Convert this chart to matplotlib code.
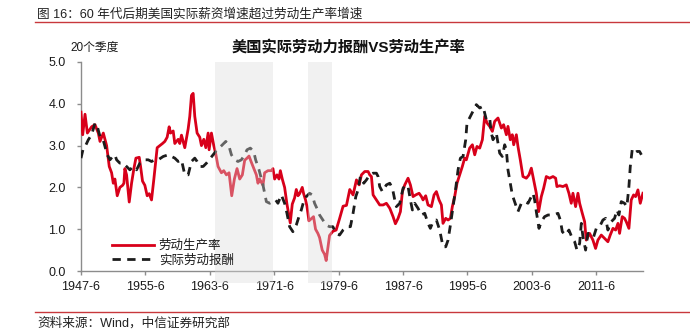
import matplotlib
matplotlib.use("Agg")
import matplotlib.pyplot as plt
from matplotlib.lines import Line2D

plt.rcParams['font.family'] = ['Liberation Sans', 'Noto Sans CJK SC', 'DejaVu Sans']

# ---------------- data ----------------
prod_years = [1947.50, 1947.71, 1948.00, 1948.29, 1948.82, 1949.24, 1949.65, 1949.86, 1950.27, 1950.68,
              1951.01, 1951.30, 1951.51, 1951.71, 1952.00, 1952.33, 1952.67, 1952.83, 1952.95, 1953.16,
              1953.49, 1953.78, 1954.07, 1954.32, 1954.73, 1954.90, 1955.14, 1955.43, 1955.72, 1955.97,
              1956.26, 1956.55, 1956.96, 1957.29, 1957.62, 1957.91, 1958.20, 1958.45, 1958.62, 1958.95,
              1959.15, 1959.57, 1959.77, 1959.98, 1960.19, 1960.39, 1960.81, 1961.01, 1961.22, 1961.43,
              1961.63, 1961.92, 1962.25, 1962.46, 1962.75, 1963.00, 1963.29, 1963.41, 1963.70, 1963.99,
              1964.24, 1964.52, 1964.94, 1965.23, 1965.56, 1965.89, 1966.22, 1966.55, 1966.88, 1967.21,
              1967.54, 1967.83, 1968.12, 1968.37, 1968.66, 1969.07, 1969.28, 1969.48, 1969.69, 1970.10,
              1970.31, 1970.72, 1971.14, 1971.34, 1971.55, 1971.84, 1972.09, 1972.26, 1972.50, 1972.79,
              1973.08, 1973.49, 1973.74, 1974.03, 1974.24, 1974.45, 1974.65, 1974.98, 1975.15, 1975.39,
              1975.56, 1975.81, 1976.10, 1976.38, 1976.63, 1976.92, 1977.13, 1977.46, 1977.75, 1977.95,
              1978.16, 1978.37, 1978.78, 1979.19, 1979.61, 1980.05, 1980.47, 1980.88, 1981.29, 1981.71,
              1982.04, 1982.33, 1982.74, 1983.16, 1983.36, 1983.57, 1983.78, 1984.19, 1984.60, 1985.02,
              1985.43, 1985.85, 1986.26, 1986.55, 1986.88, 1987.17, 1987.42, 1987.71, 1988.12, 1988.41,
              1988.74, 1989.07, 1989.49, 1989.78, 1989.98, 1990.31, 1990.60, 1991.02, 1991.35, 1991.64,
              1991.97, 1992.26, 1992.46, 1992.80, 1993.09, 1993.38, 1993.62, 1993.91, 1994.20, 1994.53,
              1994.86, 1995.15, 1995.36, 1995.77, 1996.11, 1996.40, 1996.68, 1997.02, 1997.35, 1997.64,
              1997.93, 1998.26, 1998.59, 1998.88, 1999.29, 1999.71, 1999.99, 2000.33, 2000.53, 2000.82,
              2001.07, 2001.24, 2001.57, 2001.77, 2002.06, 2002.39, 2002.81, 2003.14, 2003.43, 2003.72,
              2004.05, 2004.34, 2004.67, 2004.96, 2005.29, 2005.70, 2006.12, 2006.45, 2006.61, 2006.95,
              2007.36, 2007.77, 2008.10, 2008.39, 2008.60, 2008.93, 2009.22, 2009.43, 2009.76, 2010.05,
              2010.25, 2010.67, 2010.88, 2011.08, 2011.41, 2011.70, 2012.12, 2012.53, 2012.94, 2013.23,
              2013.57, 2013.90, 2014.19, 2014.39, 2014.72, 2015.01, 2015.22, 2015.55, 2015.84, 2016.13,
              2016.38, 2016.67, 2016.96, 2017.29]
productivity = [3.80, 3.26, 3.75, 3.30, 3.45, 3.50, 3.30, 3.10, 3.30, 3.00,
                2.50, 2.35, 2.10, 2.20, 1.80, 2.00, 2.05, 2.10, 2.45, 2.30,
                1.65, 2.10, 2.45, 2.70, 2.72, 2.50, 2.15, 2.05, 1.80, 1.85,
                1.70, 2.20, 2.95, 3.00, 3.05, 3.10, 3.20, 3.45, 3.30, 3.35,
                3.05, 3.15, 3.05, 3.25, 3.10, 2.95, 3.40, 3.70, 4.20, 4.25,
                3.70, 3.30, 3.20, 3.00, 3.15, 2.95, 3.30, 2.90, 3.30, 3.00,
                2.80, 2.50, 2.35, 2.40, 2.30, 2.35, 1.80, 2.20, 2.45, 2.20,
                2.30, 2.65, 2.70, 2.75, 2.60, 2.40, 2.30, 2.10, 2.20, 2.05,
                2.35, 2.40, 2.40, 2.45, 2.20, 2.30, 2.20, 2.40, 2.20, 2.00,
                1.60, 1.15, 1.60, 1.75, 1.95, 1.80, 1.85, 2.00, 1.85, 1.70,
                1.55, 1.20, 1.25, 1.30, 1.00, 0.90, 0.80, 0.50, 0.40, 0.25,
                0.55, 0.85, 0.95, 0.98, 1.25, 1.55, 1.57, 1.95, 1.82, 2.18,
                2.06, 2.30, 2.38, 2.38, 2.30, 2.26, 1.82, 1.70, 1.58, 1.58,
                1.62, 1.50, 1.30, 1.13, 1.26, 1.42, 1.90, 2.06, 2.22, 2.06,
                1.78, 1.82, 1.86, 1.78, 1.70, 1.80, 1.58, 1.54, 1.82, 1.90,
                1.70, 1.58, 1.14, 1.26, 1.22, 1.26, 1.54, 1.78, 2.10, 2.30,
                2.50, 2.70, 2.66, 2.94, 3.02, 2.78, 2.98, 2.94, 3.14, 3.70,
                3.54, 3.46, 3.34, 3.58, 3.66, 3.42, 3.50, 3.26, 3.46, 3.14,
                3.26, 3.02, 3.26, 2.98, 2.66, 2.26, 2.22, 2.30, 2.46, 2.18,
                1.86, 1.42, 1.78, 1.98, 2.26, 2.22, 2.26, 2.22, 2.02, 2.04,
                2.02, 2.06, 1.86, 1.62, 1.86, 1.54, 1.86, 1.62, 1.38, 1.18,
                0.74, 0.90, 0.82, 0.74, 0.54, 0.74, 0.86, 0.78, 0.70, 0.86,
                1.02, 0.98, 1.14, 0.90, 1.30, 1.26, 1.18, 1.02, 1.70, 1.82,
                1.78, 1.94, 1.62, 1.86]

comp_years = [1947.50, 1947.79, 1948.12, 1948.41, 1948.82, 1949.24, 1949.52, 1949.86, 1950.19, 1950.48,
              1950.76, 1951.10, 1951.43, 1951.71, 1951.92, 1952.33, 1952.75, 1953.16, 1953.57, 1953.99,
              1954.40, 1954.81, 1955.43, 1955.85, 1956.26, 1956.67, 1957.09, 1957.71, 1958.33, 1958.74,
              1959.15, 1959.57, 1959.98, 1960.39, 1960.81, 1961.22, 1961.63, 1961.92, 1962.25, 1962.67,
              1963.08, 1963.41, 1963.90, 1964.24, 1964.65, 1965.06, 1965.48, 1965.89, 1966.18, 1966.59,
              1967.00, 1967.42, 1967.83, 1968.12, 1968.53, 1968.95, 1969.19, 1969.61, 1970.10, 1970.52,
              1970.93, 1971.34, 1971.67, 1971.96, 1972.38, 1972.79, 1973.08, 1973.41, 1973.82, 1974.24,
              1974.57, 1974.86, 1975.15, 1975.48, 1975.89, 1976.22, 1976.51, 1976.80, 1977.13, 1977.54,
              1977.95, 1978.37, 1978.78, 1979.19, 1979.61, 1980.05, 1980.55, 1980.96, 1981.29, 1981.63,
              1981.91, 1982.20, 1982.62, 1982.95, 1983.36, 1983.78, 1984.19, 1984.40, 1984.60, 1984.93,
              1985.43, 1985.85, 1986.18, 1986.47, 1986.67, 1987.09, 1987.50, 1987.83, 1988.12, 1988.41,
              1988.66, 1988.95, 1989.36, 1989.78, 1990.19, 1990.60, 1990.89, 1991.22, 1991.64, 1992.05,
              1992.46, 1992.80, 1993.09, 1993.38, 1993.71, 1994.04, 1994.33, 1994.62, 1994.95, 1995.28,
              1995.44, 1995.86, 1996.19, 1996.60, 1997.02, 1997.43, 1997.84, 1998.26, 1998.46, 1998.67,
              1999.08, 1999.50, 1999.83, 2000.12, 2000.33, 2000.53, 2000.82, 2001.07, 2001.57, 2001.77,
              2002.19, 2002.60, 2003.02, 2003.43, 2003.64, 2003.84, 2004.05, 2004.38, 2004.67, 2005.08,
              2005.50, 2006.12, 2006.74, 2007.03, 2007.28, 2007.69, 2008.10, 2008.52, 2008.81, 2009.10,
              2009.43, 2009.64, 2009.84, 2010.17, 2010.46, 2010.88, 2011.17, 2011.50, 2011.91, 2012.32,
              2012.66, 2012.94, 2013.36, 2013.77, 2014.06, 2014.31, 2014.60, 2015.01, 2015.30, 2015.55,
              2015.72, 2015.96, 2016.25, 2016.54, 2016.87, 2017.10]
compensation = [2.70, 2.94, 3.02, 3.14, 3.26, 3.54, 3.46, 3.22, 3.18, 2.98,
                2.78, 2.66, 2.74, 2.78, 2.66, 2.58, 2.58, 2.50, 2.42, 2.50,
                2.42, 2.58, 2.66, 2.66, 2.62, 2.66, 2.66, 2.74, 2.78, 2.74,
                2.70, 2.62, 2.66, 2.30, 2.30, 2.62, 2.70, 2.62, 2.50, 2.50,
                2.58, 2.66, 2.78, 2.86, 2.94, 3.02, 3.10, 2.98, 2.78, 2.66,
                2.62, 2.66, 2.78, 2.90, 2.94, 2.86, 2.66, 2.42, 2.06, 1.66,
                1.62, 1.66, 1.70, 1.62, 1.82, 1.62, 1.38, 1.06, 0.94, 1.10,
                1.30, 1.46, 1.66, 1.78, 1.86, 1.82, 1.62, 1.50, 1.34, 1.22,
                1.10, 1.06, 1.06, 0.90, 0.86, 0.98, 1.06, 1.06, 1.38, 1.78,
                1.94, 2.26, 2.10, 2.18, 2.30, 2.34, 2.34, 2.26, 2.02, 1.90,
                2.06, 2.10, 1.98, 1.70, 1.54, 1.62, 1.98, 2.06, 2.02, 1.70,
                1.46, 1.62, 1.50, 1.34, 1.38, 1.14, 1.02, 1.18, 1.22, 0.98,
                0.58, 0.58, 0.74, 1.10, 1.54, 1.98, 2.42, 2.70, 2.74, 3.14,
                3.54, 3.70, 3.82, 3.98, 3.90, 3.94, 3.62, 3.66, 3.30, 3.14,
                3.30, 2.82, 2.74, 3.02, 2.90, 2.42, 2.10, 1.82, 1.54, 1.42,
                1.62, 1.66, 1.62, 1.78, 1.86, 1.70, 1.42, 1.02, 1.18, 1.30,
                1.34, 1.34, 1.38, 1.22, 0.94, 0.86, 0.98, 0.78, 0.70, 0.50,
                0.66, 1.14, 0.82, 0.50, 0.90, 0.90, 0.82, 1.02, 1.06, 1.22,
                1.26, 0.98, 1.18, 1.26, 1.46, 1.34, 1.66, 1.62, 1.54, 2.02,
                2.50, 2.90, 2.82, 2.86, 2.86, 2.78]

tick_years = [1947.5, 1955.5, 1963.5, 1971.5, 1979.5, 1987.5, 1995.5, 2003.5, 2011.5]
tick_labels = ['1947-6', '1955-6', '1963-6', '1971-6', '1979-6', '1987-6', '1995-6', '2003-6', '2011-6']
y_ticks = [0.0, 1.0, 2.0, 3.0, 4.0, 5.0]
shade_periods = [(1964.1, 1971.35), (1975.7, 1978.7)]

series_names = ['劳动生产率', '实际劳动报酬']

# ---------------- figure ----------------
W, H = 690, 333
fig = plt.figure(figsize=(W / 100, H / 100), dpi=100)
ax = fig.add_axes([81 / W, 1 - 271 / H, (643 - 81) / W, (271 - 62) / H])

red = '#d8001a'
black = '#1c1c1c'
lw = 2.0
dash = (3.0, 2.3)
ax.plot(prod_years, productivity, color=red, lw=lw, label=series_names[0], zorder=3)
ax.plot(comp_years, compensation, color=black, lw=lw, dashes=dash,
        label=series_names[1], zorder=3)

for a, b in shade_periods:
    ax.axvspan(a, b, ymin=-0.058, ymax=1.0, color='#dcdcdc', alpha=0.38,
               lw=0, zorder=4, clip_on=False)

ax.set_xlim(1947.5, 2017.3)
ax.set_ylim(0, 5.0)
ax.set_xticks(tick_years)
ax.set_xticklabels(tick_labels)
ax.set_yticks(y_ticks)
ax.set_yticklabels([f'{v:.1f}' for v in y_ticks])

for s in ['top', 'right']:
    ax.spines[s].set_visible(False)
for s in ['left', 'bottom']:
    ax.spines[s].set_color('#8c8c8c')
    ax.spines[s].set_linewidth(1.0)
ax.tick_params(axis='both', colors='#8c8c8c', labelcolor='#1a1a1a', length=3, width=1.0,
               labelsize=9)
ax.tick_params(axis='y', pad=8)
ax.tick_params(axis='x', pad=4)

handles = [Line2D([], [], color=red, lw=lw),
           Line2D([], [], color=black, lw=lw, dashes=dash)]
leg = ax.legend(handles, series_names, loc='lower left', bbox_to_anchor=(0.055, 0.02),
                frameon=False, fontsize=9, handlelength=3.4, handletextpad=0.35,
                labelspacing=0.2, borderpad=0, borderaxespad=0)
for t in leg.get_texts():
    t.set_color('#1a1a1a')

# titles & annotations
fig.text(37 / W, 1 - 14 / H, '图 16：60 年代后期美国实际薪资增速超过劳动生产率增速',
         fontsize=9.1, color='#222222', ha='left', va='center')
fig.add_artist(Line2D([35 / W, 1.0], [1 - 22 / H, 1 - 22 / H], color='#c8383c', lw=1.0))
fig.text(70 / W, 1 - 48 / H, '20个季度', fontsize=8.5, color='#1a1a1a', ha='left', va='center')
fig.text(348 / W, 1 - 48 / H, '美国实际劳动力报酬VS劳动生产率', fontsize=11, fontweight='bold',
         color='#111111', ha='center', va='center')
fig.add_artist(Line2D([35 / W, 1.0], [1 - 311.5 / H, 1 - 311.5 / H], color='#c8383c', lw=1.0))
fig.text(37 / W, 1 - 323 / H, '资料来源：Wind，中信证券研究部', fontsize=9.1, color='#222222',
         ha='left', va='center')

fig.savefig('out.png', dpi=100)
